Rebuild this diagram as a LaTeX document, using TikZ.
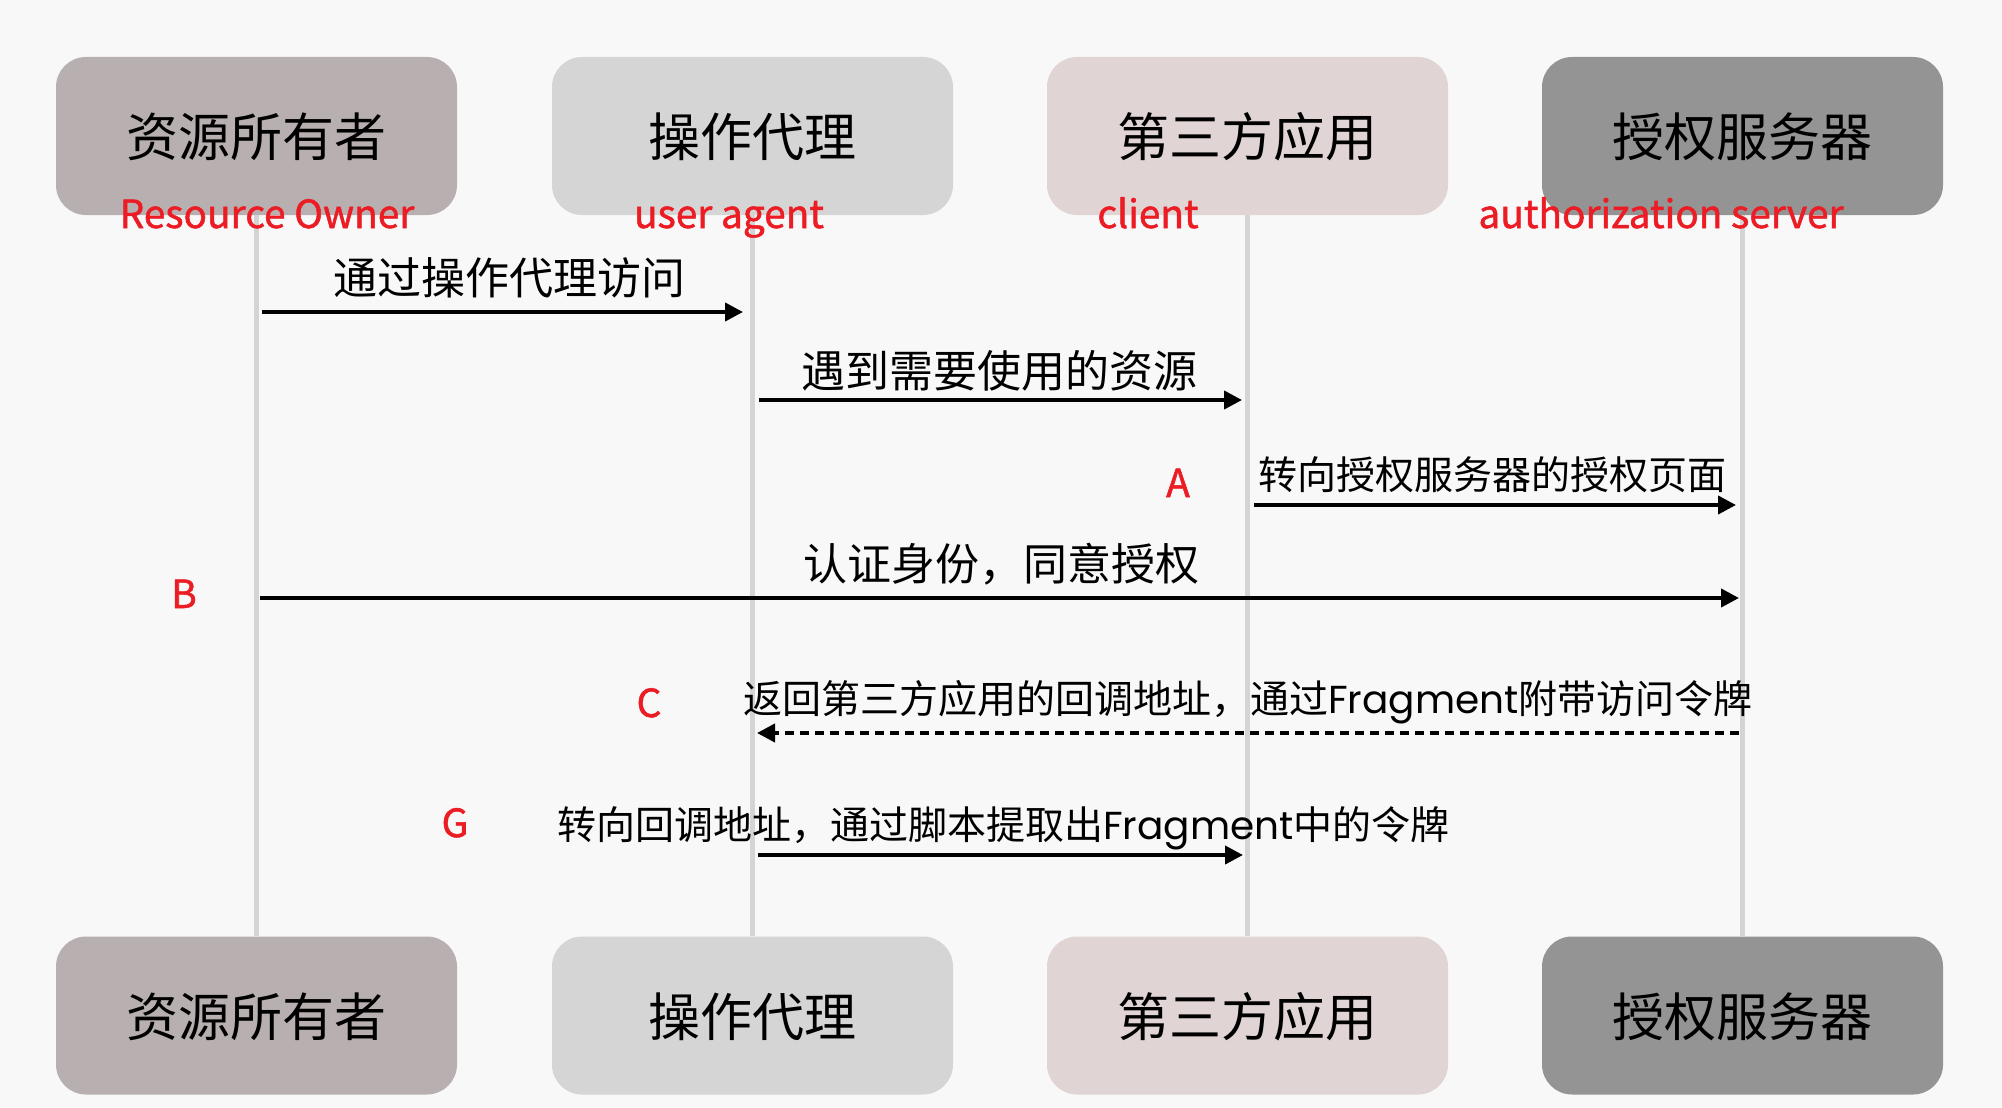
\documentclass[tikz,border=0pt]{standalone}
\usepackage{fontspec}
\setmainfont{Noto Sans CJK SC}
\newfontfamily\fragfont{Poppins}
\newfontfamily\redfont[FakeBold=1.3]{Noto Sans CJK SC}
\usetikzlibrary{arrows.meta}
\definecolor{bg}{HTML}{F9F8F9}
\definecolor{cro}{HTML}{B8B0B0}
\definecolor{cua}{HTML}{D5D5D5}
\definecolor{ccl}{HTML}{E0D4D4}
\definecolor{cas}{HTML}{949494}
\definecolor{lifec}{HTML}{D4D4D4}
\definecolor{redlab}{HTML}{EC1C24}
\begin{document}
\begin{tikzpicture}[x=1pt,y=-1pt,
  actor/.style={rounded corners=30pt, minimum width=401pt, minimum height=158pt, inner sep=0pt},
  actortext/.style={font=\fontsize{52}{60}\selectfont, inner sep=0pt, anchor=base},
  role/.style={text=redlab, font=\redfont\fontsize{38.8}{46}\selectfont, anchor=base, inner sep=0pt},
  msg/.style={font=\fontsize{44}{52}\selectfont, inner sep=0pt, anchor=base},
  msgs/.style={font=\fontsize{39}{46}\selectfont, inner sep=0pt, anchor=base west},
  call/.style={line width=4pt, -{Triangle[length=18pt,width=18pt]}},
  ret/.style={call, dash pattern=on 9pt off 6pt},
  life/.style={draw=lifec, line width=5pt}]
\useasboundingbox (0,0) rectangle (2002,1108);
\fill[bg] (0,0) rectangle (2002,1108);

% actor boxes (top)
\node[actor, fill=cro] (ro) at (256.5,136) {};
\node[actor, fill=cua] (ua) at (752.5,136) {};
\node[actor, fill=ccl] (cl) at (1247.5,136) {};
\node[actor, fill=cas] (as) at (1742.5,136) {};
% actor boxes (bottom)
\node[actor, fill=cro] (ro2) at (256.5,1015.5) {};
\node[actor, fill=cua] (ua2) at (752.5,1015.5) {};
\node[actor, fill=ccl] (cl2) at (1247.5,1015.5) {};
\node[actor, fill=cas] (as2) at (1742.5,1015.5) {};

% lifelines
\draw[life] (ro.south) -- (ro2.north);
\draw[life] (ua.south) -- (ua2.north);
\draw[life] (cl.south) -- (cl2.north);
\draw[life] (as.south) -- (as2.north);

% actor names
\node[actortext] (ron) at (256.5,156) {资源所有者};
\node[actortext] (uan) at (752.5,156) {操作代理};
\node[actortext] (cln) at (1247.5,156) {第三方应用};
\node[actortext] (asn) at (1742.5,156) {授权服务器};
\node[actortext] (ron2) at (256.5,1036) {资源所有者};
\node[actortext] (uan2) at (752.5,1036) {操作代理};
\node[actortext] (cln2) at (1247.5,1036) {第三方应用};
\node[actortext] (asn2) at (1742.5,1036) {授权服务器};

% red role labels
\node[role] (rol) at (267,228) {Resource Owner};
\node[role] (ual) at (729,228) {user agent};
\node[role] (cll) at (1148,228) {client};
\node[role] (asl) at (1661,228) {authorization server};

% step letters
\node[role] (la) at (1178,497) {A};
\node[role] (lb) at (184,608) {B};
\node[role] (lc) at (649,717) {C};
\node[role] (lg) at (455,837) {G};

% message end points on the lifelines
\coordinate (m1a) at (262,312);  \coordinate (m1b) at (743,312);
\coordinate (m2a) at (759,400);  \coordinate (m2b) at (1242,400);
\coordinate (m3a) at (1254,505); \coordinate (m3b) at (1736,505);
\coordinate (m4a) at (260,598);  \coordinate (m4b) at (1739,598);
\coordinate (m5a) at (1739,733); \coordinate (m5b) at (757,733);
\coordinate (m6a) at (758,855);  \coordinate (m6b) at (1243,855);

% messages
\draw[call] (m1a) -- (m1b);
\draw[call] (m2a) -- (m2b);
\draw[call] (m3a) -- (m3b);
\draw[call] (m4a) -- (m4b);
\draw[ret]  (m5a) -- (m5b);
\draw[call] (m6a) -- (m6b);

% message labels
\node[msg] (t1) at (509,294) {通过操作代理访问};
\node[msg] (t2) at (999.5,387) {遇到需要使用的资源};
\node[msgs, anchor=base] (t3) at (1492.5,489) {转向授权服务器的授权页面};
\node[msg] (t4) at (1001,580) {认证身份，同意授权};
\node[msgs] (t5) at (743,713) {返回第三方应用的回调地址，通过{\fragfont Fragment}附带访问令牌};
\node[msgs] (t6) at (557,839) {转向回调地址，通过脚本提取出{\fragfont Fragment}中的令牌};
\end{tikzpicture}
\end{document}
